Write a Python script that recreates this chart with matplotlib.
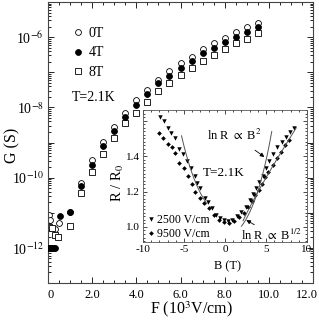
import numpy as np
import matplotlib
matplotlib.use("Agg")
import matplotlib.pyplot as plt
import matplotlib.transforms as mtransforms
from matplotlib.ticker import FixedLocator, MultipleLocator, FuncFormatter, LogLocator, NullFormatter

plt.rcParams['font.family'] = ['Liberation Serif', 'DejaVu Serif']
plt.rcParams['mathtext.fontset'] = 'stix'
plt.rcParams['axes.unicode_minus'] = False

# ---------------- main panel data ----------------
F_low_0T = [0.05, 0.1, 0.3, 0.5, 1.0]
logG_low_0T = [-11.05, -11.2, -11.45, -11.28, -10.97]
F_low_4T = [0.0, 0.05, 0.1, 0.15, 0.2, 0.25, 0.3, 0.55, 1.0]
logG_low_4T = [-12.0, -12.0, -12.0, -12.0, -12.0, -12.0, -12.0, -11.1, -10.98]
F_low_8T = [0.05, 0.18, 0.32, 0.45, 1.0]
logG_low_8T = [-11.4, -11.42, -11.64, -11.7, -11.38]

F_high = [1.5, 2.0, 2.5, 3.0, 3.5, 4.0, 4.5, 5.0, 5.5, 6.0, 6.5, 7.0, 7.5, 8.0, 8.5, 9.0, 9.5]
logG_0T = [-10.16, -9.5, -8.99, -8.56, -8.16, -7.79, -7.51, -7.22, -6.97, -6.74, -6.57,
           -6.34, -6.17, -6.03, -5.85, -5.71, -5.6]
logG_4T = [-10.24, -9.64, -9.1, -8.68, -8.28, -7.93, -7.62, -7.31, -7.11, -6.88, -6.68,
           -6.45, -6.31, -6.14, -6.0, -5.85, -5.71]
logG_8T = [-10.44, -9.84, -9.33, -8.87, -8.45, -8.16, -7.85, -7.54, -7.31, -7.08, -6.88,
           -6.68, -6.51, -6.34, -6.17, -6.05, -5.88]

# ---------------- inset data ----------------
B_2500 = [-7.9, -7.5, -7.0, -6.6, -6.1, -5.6, -5.15, -4.65, -4.15, -3.7, -3.4, -3.0, -2.5,
          -2.1, -1.6, -1.1, -0.55, -0.1,
          0.4, 0.9, 1.5, 2.0, 2.5, 3.0, 3.4, 3.8, 4.2, 4.6, 5.0, 5.4, 5.9, 6.4, 6.9, 7.4, 7.9, 8.4]
R_2500 = [1.62, 1.60, 1.56, 1.53, 1.50, 1.44, 1.41, 1.37, 1.335, 1.29, 1.25, 1.22, 1.165,
          1.14, 1.105, 1.067, 1.048, 1.039,
          1.035, 1.04, 1.06, 1.085, 1.115, 1.15, 1.185, 1.22, 1.255, 1.29, 1.33, 1.37, 1.41,
          1.45, 1.48, 1.51, 1.535, 1.56]
B_9500 = [-8.05, -7.55, -7.0, -6.5, -6.05, -5.55, -5.05, -4.55, -4.05, -3.6, -3.1, -2.6,
          -2.0, -1.35, -0.75, -0.1,
          0.5, 1.1, 1.7, 2.3, 2.8, 3.3, 3.7, 4.1, 4.5, 4.9, 5.3, 5.8, 6.3, 6.8, 7.3, 7.8]
R_9500 = [1.53, 1.50, 1.47, 1.45, 1.42, 1.36, 1.33, 1.29, 1.24, 1.195, 1.165, 1.133,
          1.105, 1.067, 1.039, 1.026,
          1.025, 1.035, 1.055, 1.08, 1.11, 1.145, 1.18, 1.21, 1.245, 1.28, 1.31, 1.35,
          1.39, 1.425, 1.46, 1.49]

# fit parameters (ln R = a*B^2 + c  and  ln R = c + b*sqrt(B))
sq_left_a, sq_left_c, sq_left_range = 0.01254, 0.0627, (-5.3, -2.2)
sq_right_a, sq_right_c, sq_right_range = 0.0150, -0.0562, (2.0, 5.7)
half_b, half_c, half_range = 0.28, -0.381, (2.2, 8.7)

W, H = 319, 326
fig = plt.figure(figsize=(W / 100, H / 100), dpi=100)
ax = fig.add_axes([48/W, 1 - 283/H, 265/W, 281/H])

ax.plot(F_low_0T + F_high, 10**np.array(logG_low_0T + logG_0T), 'o', ms=4.2,
        mfc='white', mec='black', mew=0.6, label='0T', zorder=2)
ax.plot(F_low_4T + F_high, 10**np.array(logG_low_4T + logG_4T), 'o', ms=4.2,
        mfc='black', mec='black', mew=0.6, label='4T', zorder=3)
ax.plot(F_low_8T + F_high, 10**np.array(logG_low_8T + logG_8T), 's', ms=4.2,
        mfc='white', mec='black', mew=0.6, label='8T', zorder=2)

ax.set_yscale('log')
ax.set_xlim(0, 12)
ax.set_ylim(1e-13, 1e-5)
ax.xaxis.set_major_locator(FixedLocator([0, 2, 4, 6, 8, 10, 12]))
ax.xaxis.set_major_formatter(FuncFormatter(lambda v, p: '0' if v == 0 else f'{v:.1f}'))
ax.xaxis.set_minor_locator(MultipleLocator(0.5))
ax.yaxis.set_major_locator(FixedLocator([10.0**k for k in range(-13, -4)]))
ax.yaxis.set_major_formatter(FuncFormatter(
    lambda v, p: (r'10$^{%d}$' % round(np.log10(v))) if round(np.log10(v)) in (-12, -10, -8, -6) else ''))
ax.yaxis.set_minor_locator(LogLocator(base=10, subs=np.arange(2, 10), numticks=20))
ax.yaxis.set_minor_formatter(NullFormatter())
ax.tick_params(which='both', direction='in', top=True, right=True, width=0.6)
ax.tick_params(axis='y', labelsize=10, pad=3)
ax.tick_params(axis='x', labelsize=9, pad=4)
ax.tick_params(which='major', length=4)
ax.tick_params(which='minor', length=2)
for s in ax.spines.values():
    s.set_linewidth(0.8)
    s.set_color('#444444')

fig.canvas.draw()
xt_labels = ax.get_xticklabels()
shift_last = mtransforms.ScaledTranslation(-6 / 100, 0, fig.dpi_scale_trans)
shift_first = mtransforms.ScaledTranslation(3 / 100, 0, fig.dpi_scale_trans)
for t in ax.xaxis.get_major_ticks():
    pass
ticks = ax.xaxis.get_major_ticks()
ticks[-1].label1.set_transform(ticks[-1].label1.get_transform() + shift_last)
ticks[0].label1.set_transform(ticks[0].label1.get_transform() + shift_first)

fig.text(191/W, 1 - 309/H, r'F (10$^3$V/cm)', fontsize=11.5, ha='center', va='center')
fig.text(12/W, 1 - 145/H, 'G (S)', fontsize=11.5, ha='center', va='center', rotation=90)

ax.legend(loc='upper left', bbox_to_anchor=(0.065, 0.93), frameon=False, fontsize=10,
          handletextpad=0.3, labelspacing=0.45, handlelength=1.0, borderaxespad=0)
fig.text(72/W, 1 - 97/H, 'T=2.1K', fontsize=10, ha='left', va='center')

# ---------------- inset ----------------
ins = fig.add_axes([143/W, 1 - 242/H, 164/W, 132/H])
ins.plot(B_2500, R_2500, 'v', ms=3.2, color='black', mew=0, label='2500 V/cm')
ins.plot(B_9500, R_9500, 'D', ms=2.4, color='black', mew=0, label='9500 V/cm')

b = np.linspace(*sq_left_range, 50)
ins.plot(b, np.exp(sq_left_a * b**2 + sq_left_c), color='#555555', lw=0.7)
b = np.linspace(*sq_right_range, 50)
ins.plot(b, np.exp(sq_right_a * b**2 + sq_right_c), color='#555555', lw=0.7)
b = np.linspace(*half_range, 50)
ins.plot(b, np.exp(half_c + half_b * np.sqrt(b)), color='#555555', lw=0.7)

ins.set_xlim(-10, 10)
ins.set_ylim(0.915, 1.66)
ins.xaxis.set_major_locator(MultipleLocator(5))
ins.xaxis.set_minor_locator(MultipleLocator(1))
ins.yaxis.set_major_locator(FixedLocator([1.0, 1.2, 1.4, 1.6]))
ins.yaxis.set_major_formatter(FuncFormatter(lambda v, p: '' if v > 1.5 else f'{v:.1f}'))
ins.yaxis.set_minor_locator(MultipleLocator(0.02))
ins.tick_params(which='both', direction='in', top=True, right=True, labelsize=8, width=0.5, pad=2)
ins.tick_params(which='major', length=3)
ins.tick_params(which='minor', length=1.5)
for s in ins.spines.values():
    s.set_linewidth(0.6)
    s.set_color('#555555')
fig.text(227/W, 1 - 266/H, 'B (T)', fontsize=9, ha='center', va='center')
fig.text(118/W, 1 - 183/H, r'R / R$_0$', fontsize=10.5, ha='center', va='center', rotation=90)

ins.legend(loc='lower left', frameon=False, fontsize=8.5, handletextpad=0.1,
           labelspacing=0.1, handlelength=0.9, borderaxespad=0.1, borderpad=0.1)

ins.text(-0.1, 1.304, 'T=2.1K', fontsize=9.5, ha='center', va='center')
ins.annotate(r'ln R $\propto$ B$^2$', xy=(4.8, 1.395), xytext=(1.1, 1.519), fontsize=9,
             ha='center', va='center',
             arrowprops=dict(arrowstyle='-|>', color='black', lw=0.6, mutation_scale=6,
                             shrinkA=6, shrinkB=0))
ins.annotate(r'ln R $\propto$ B$^{1/2}$', xy=(2.6, 1.039), xytext=(5.7, 0.954), fontsize=9,
             ha='center', va='center',
             arrowprops=dict(arrowstyle='-|>', color='black', lw=0.6, mutation_scale=6,
                             shrinkA=8, shrinkB=0))

fig.savefig('out.png', dpi=100)
